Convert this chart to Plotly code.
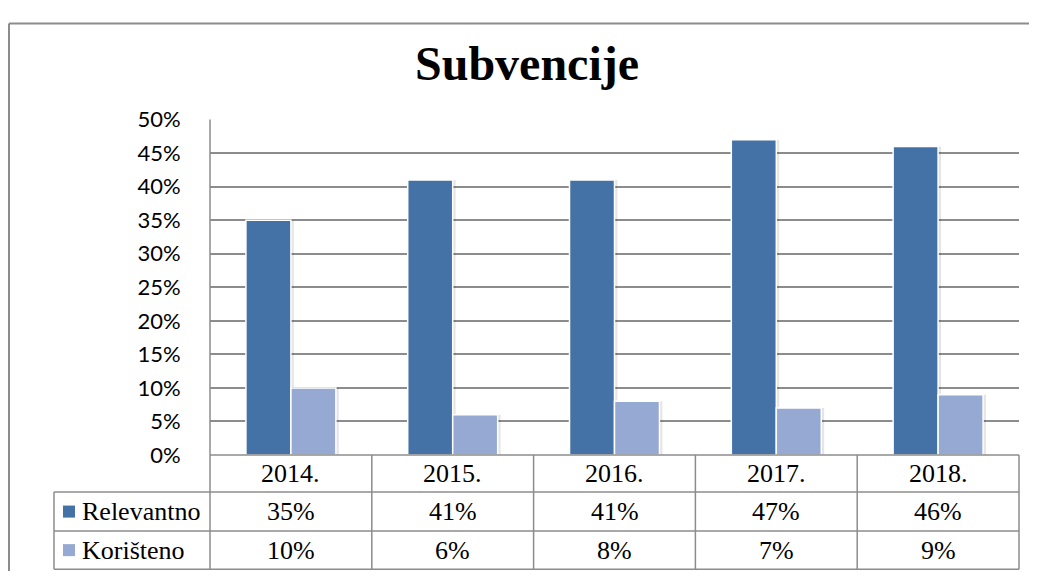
import plotly.graph_objects as go

years = ["2014.", "2015.", "2016.", "2017.", "2018."]
relevantno = [35, 41, 41, 47, 46]
koristeno = [10, 6, 8, 7, 9]
series_names = ["Relevantno", "Korišteno"]
colors = ["#4472A7", "#95A9D2"]
y_ticks = [0, 5, 10, 15, 20, 25, 30, 35, 40, 45, 50]
y_tick_labels = [f"{v}%" for v in y_ticks]

# mapping from screenshot coordinates to figure coordinates
OX, OY, SY = 8, 22.5, 0.952
W, H = 1021, 576
def px(x): return (x - OX) / W
def py(y): return 1 - ((y - OY) / SY) / H

x0, x1 = 210, 1019
ytop, ybot = 120, 455
row_lines = [455, 492, 531, 569]
leg_left = 54

bw = 0.278
fig = go.Figure()
for vals, off in [(relevantno, -bw), (koristeno, 0)]:
    fig.add_trace(go.Bar(x=years, y=vals, width=bw, offset=off + 0.018,
                         marker=dict(color="rgba(0,0,0,0.10)", line=dict(width=0)),
                         showlegend=False, hoverinfo="skip"))
for vals, off, name, c in [(relevantno, -bw, series_names[0], colors[0]),
                           (koristeno, 0, series_names[1], colors[1])]:
    fig.add_trace(go.Bar(x=years, y=vals, width=bw, offset=off, name=name,
                         marker=dict(color=c, line=dict(color="white", width=1.5)),
                         showlegend=False))

fig.update_layout(
    width=W, height=H, autosize=False, margin=dict(l=0, r=0, t=0, b=0, pad=0),
    paper_bgcolor="white", plot_bgcolor="white",
    barmode="overlay",
    xaxis=dict(domain=[px(x0), px(x1)], type="category", range=[-0.5, 4.5],
               showticklabels=False, showgrid=False, zeroline=False, showline=False),
    yaxis=dict(domain=[py(ybot), py(ytop)], range=[0, 50], tickvals=y_ticks,
               ticktext=y_tick_labels, showgrid=True, gridcolor="#8C8C8C", gridwidth=1.5,
               zeroline=False, showline=False, ticks="outside", ticklen=24,
               tickcolor="rgba(0,0,0,0)",
               tickfont=dict(family="Lato", size=22, color="black")),
    font=dict(family="Liberation Serif", color="black"),
)

gray = "#8C8C8C"
shapes = []
def seg(xa, ya, xb, yb, w=1.5):
    # ya, yb already in paper coordinates
    shapes.append(dict(type="line", xref="paper", yref="paper",
                       x0=px(xa), y0=ya, x1=px(xb), y1=yb,
                       line=dict(color=gray, width=w)))
def line(xa, ya, xb, yb, w=1.5):
    seg(xa, py(ya), xb, py(yb), w)

# outer frame (top edge as high as the figure allows)
top_paper = 1 - 1.5 / H
seg(9, top_paper, OX + W, top_paper, 2)
seg(9, top_paper, 9, 0, 2)
# table grid
line(x0, 455, x1, 455)
for r in row_lines[1:]:
    line(leg_left, r, x1, r)
line(leg_left, 492, leg_left, 569)
col_w = (x1 - x0) / len(years)
for i in range(len(years) + 1):
    xx = x0 + i * col_w
    line(xx, ytop if i == 0 else 455, xx, 569)

for j, c in enumerate(colors):
    yc = (row_lines[j + 1] + row_lines[j + 2]) / 2
    shapes.append(dict(type="rect", xref="paper", yref="paper",
                       x0=px(63), x1=px(75), y0=py(yc - 6), y1=py(yc + 6),
                       fillcolor=c, line=dict(width=0)))
fig.update_layout(shapes=shapes)

ann = []
ann.append(dict(text="<b>Subvencije</b>", xref="paper", yref="paper",
                x=px(527), y=py(64), xanchor="center", yanchor="middle", showarrow=False,
                font=dict(family="Liberation Serif", size=48, color="black")))
hdr_y = (row_lines[0] + row_lines[1]) / 2
for i, yname in enumerate(years):
    ann.append(dict(text=yname, xref="paper", yref="paper",
                    x=px(x0 + (i + 0.5) * col_w), y=py(hdr_y),
                    xanchor="center", yanchor="middle",
                    showarrow=False, font=dict(size=26)))
for j, (name, vals) in enumerate([(series_names[0], relevantno), (series_names[1], koristeno)]):
    yc = (row_lines[j + 1] + row_lines[j + 2]) / 2
    ann.append(dict(text=name, xref="paper", yref="paper", x=px(80), y=py(yc),
                    xanchor="left", yanchor="middle", showarrow=False, font=dict(size=26)))
    for i, v in enumerate(vals):
        ann.append(dict(text=f"{v}%", xref="paper", yref="paper",
                        x=px(x0 + (i + 0.5) * col_w), y=py(yc),
                        xanchor="center", yanchor="middle",
                        showarrow=False, font=dict(size=26)))
fig.update_layout(annotations=ann)

fig.write_html("out.html")
